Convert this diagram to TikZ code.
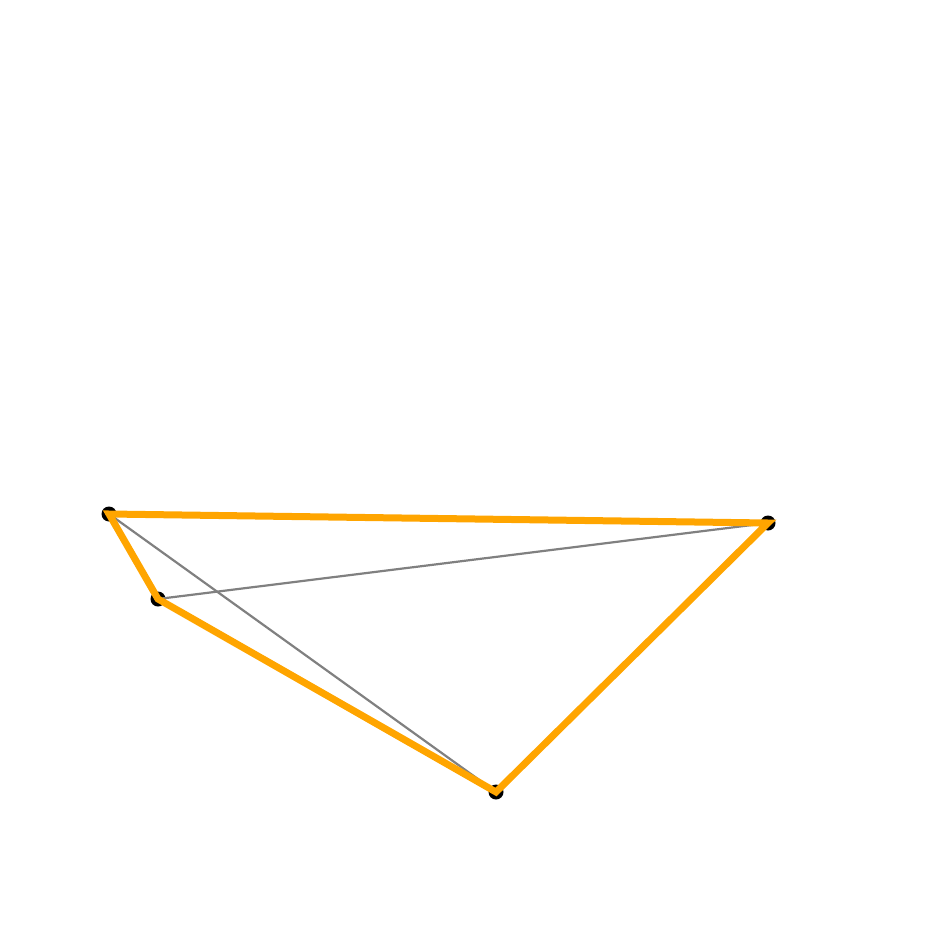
\documentclass[tikz,border=0pt]{standalone}
\begin{document}
\begin{tikzpicture}[x=1pt,y=-1pt,
  vdot/.style={circle,fill=black,inner sep=0pt,minimum size=15pt},
  orangeedge/.style={draw={rgb,255:red,255;green,165;blue,0},line width=7pt,line join=miter,line cap=butt},
  grayedge/.style={draw=gray,line width=2.2pt}]
\useasboundingbox (0,0) rectangle (950,944);
\node[vdot] (a) at (109,514) {};
\node[vdot] (b) at (768,523) {};
\node[vdot] (c) at (158,599) {};
\node[vdot] (d) at (496,792) {};
\draw[grayedge] (a.center) -- (d.center);
\draw[grayedge] (c.center) -- (b.center);
\draw[orangeedge] (a.center) -- (b.center) -- (d.center) -- (c.center) -- cycle;
\end{tikzpicture}
\end{document}
